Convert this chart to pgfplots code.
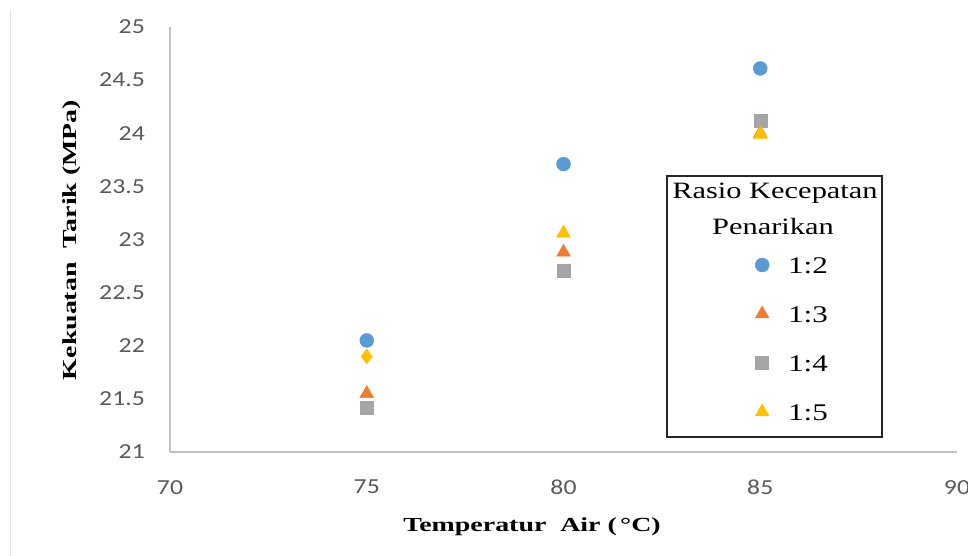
\documentclass[border=0pt]{standalone}
\usepackage{fontspec}
\usepackage{pgfplots}
\pgfplotsset{compat=1.18}
\setmainfont{Liberation Serif}[FakeStretch=1.3]
\newfontfamily\tickfont{Carlito}[FakeStretch=1.2]
\newfontfamily\labfont{Liberation Serif}[FakeStretch=1.4]
\definecolor{c12}{HTML}{5B9BD5}
\definecolor{c13}{HTML}{ED7D31}
\definecolor{c14}{HTML}{A5A5A5}
\definecolor{c15}{HTML}{FFC000}
\definecolor{axgray}{HTML}{BFBFBF}
\definecolor{tickgray}{HTML}{595959}
\begin{document}
\begin{tikzpicture}
\useasboundingbox (0,0) rectangle (968bp,556bp);
\draw[color={rgb,255:red,225;green,225;blue,225}, line width=1bp] (10.5bp,0bp) -- (10.5bp,546bp);
\begin{axis}[
  at={(170bp,104bp)}, anchor=south west,
  scale only axis, width=787bp, height=425bp,
  xmin=70, xmax=90, ymin=21, ymax=25,
  xtick={70,75,80,85,90},
  ytick={21,21.5,22,22.5,23,23.5,24,24.5,25},
  axis x line*=bottom, axis y line*=left,
  axis line style={draw=axgray, line width=1.5bp, -},
  major tick length=0pt,
  tick style={draw=none},
  /pgf/number format/assume math mode=true,
  every tick label/.append style={font=\tickfont\fontsize{21.5}{21.5}\selectfont, text=tickgray, inner sep=0pt},
  xticklabel style={anchor=north, yshift=-28bp},
  yticklabel style={anchor=east, xshift=-25bp},
  xlabel={Temperatur~ Air (\,°C)},
  ylabel={Kekuatan~ Tarik (MPa)},
  xlabel style={font=\labfont\bfseries\fontsize{20}{20}\selectfont, at={(axis description cs:0.46,-0.176)}, anchor=center},
  ylabel style={font=\labfont\bfseries\fontsize{20}{20}\selectfont, at={(axis description cs:-0.1245,0.499)}, anchor=center, rotate=0},
  legend style={at={(axis description cs:0.7414,0.464)}, anchor=north west, draw=none, fill=none,
    inner sep=0pt, font=\fontsize{24}{24}\selectfont,
    nodes={inner sep=0pt, text height=17bp, text depth=0bp},
    row sep=29bp,
    /tikz/every odd column/.append style={column sep=17.5bp}},
  legend cell align=left,
  legend image code/.code={\path[draw=none, fill=none] (0bp,-10bp) rectangle (17bp,10bp); \draw[#1] plot coordinates {(8.5bp,0bp)};},
]
\addplot[only marks, mark=*, mark size=7bp, color=c12, mark options={fill=c12, draw=c12}]
  coordinates {(75,22.05) (80,23.71) (85,24.61)};
\addlegendentry{1:2}
\addplot[only marks, mark=triangle*, mark size=8bp, color=c13, mark options={fill=c13, draw=c13}]
  coordinates {(75,21.55) (80,22.88) (85,24.0)};
\addlegendentry{1:3}
\addplot[only marks, mark=square*, mark size=6.5bp, color=c14, mark options={fill=c14, draw=c14}]
  coordinates {(75,21.42) (80,22.71) (85,24.12)};
\addlegendentry{1:4}
\addplot[only marks, mark=triangle*, mark size=8bp, color=c15, mark options={fill=c15, draw=c15}]
  coordinates {(80,23.06) (85,23.99)};
\addlegendentry{1:5}
\addplot[only marks, mark=diamond*, mark size=7.5bp, color=c15, mark options={fill=c15, draw=c15}, forget plot]
  coordinates {(75,21.9)};
\end{axis}
\draw[line width=1.5bp, black!85] (667bp,119bp) rectangle (882bp,380bp);
\node[font=\fontsize{23.5}{23.5}\selectfont, anchor=base] at (775bp,357bp) {Rasio Kecepatan};
\node[font=\fontsize{23.5}{23.5}\selectfont, anchor=base] at (773bp,321bp) {Penarikan};
\end{tikzpicture}
\end{document}
